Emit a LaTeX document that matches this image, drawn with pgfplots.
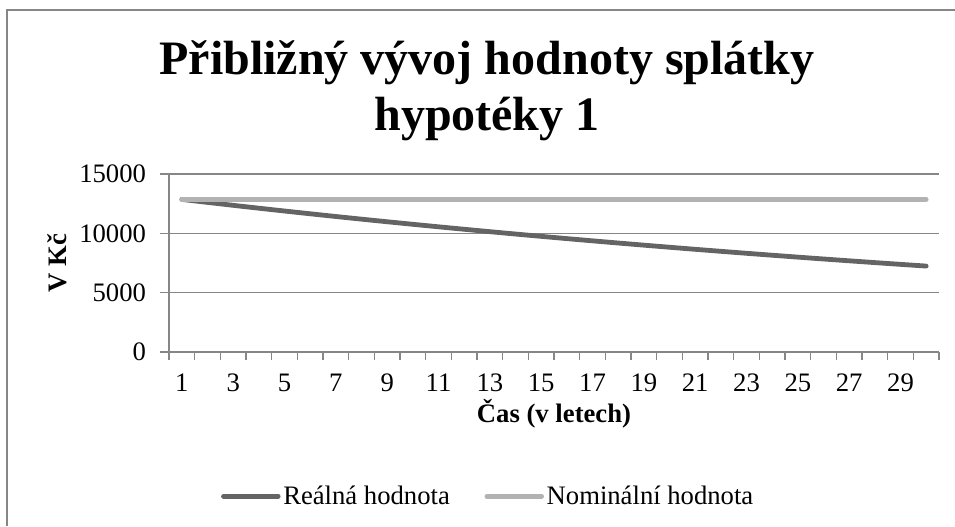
\documentclass[border=0pt]{standalone}
\usepackage{fontspec}
\setmainfont{Liberation Serif}
\usepackage{pgfplots}
\pgfplotsset{compat=1.18}
\definecolor{axgray}{HTML}{868686}
\definecolor{realc}{HTML}{646464}
\definecolor{nomc}{HTML}{B2B2B2}
\pgfplotstableread{
t real nominal
1 12860 12860
2 12608 12860
3 12361 12860
4 12118 12860
5 11881 12860
6 11648 12860
7 11419 12860
8 11195 12860
9 10976 12860
10 10761 12860
11 10550 12860
12 10343 12860
13 10140 12860
14 9941 12860
15 9746 12860
16 9555 12860
17 9368 12860
18 9184 12860
19 9004 12860
20 8828 12860
21 8654 12860
22 8485 12860
23 8318 12860
24 8155 12860
25 7995 12860
26 7838 12860
27 7685 12860
28 7534 12860
29 7386 12860
30 7242 12860
}\datatable
\begin{document}
\begin{tikzpicture}[x=0.75pt,y=0.75pt]
\useasboundingbox (0,0) rectangle (955,526);
\draw[axgray, line width=1pt] (7,0) -- (7,516) -- (955,516);
\node[anchor=base, font=\fontsize{36}{40}\selectfont\bfseries] at (487,451) {Přibližný vývoj hodnoty splátky};
\node[anchor=base, font=\fontsize{36}{40}\selectfont\bfseries] at (487,396) {hypotéky 1};
\begin{axis}[
  at={(126.75pt,130.5pt)}, anchor=south west, scale only axis,
  width=577.5pt, height=133.5pt,
  xmin=0.5, xmax=30.5, ymin=0, ymax=15000,
  axis x line*=bottom, axis y line*=left,
  axis line style={axgray, line width=1pt, -},
  ytick={0,5000,10000,15000}, scaled y ticks=false,
  /pgf/number format/assume math mode=true,
  /pgf/number format/1000 sep={},
  tick label style={font=\fontsize{20}{23}\selectfont},
  yticklabel style={xshift=-7pt},
  xticklabel style={yshift=-6pt},
  xtick={1,3,...,29},
  minor xtick={0.5,1.5,...,30.5},
  major x tick style={draw=none},
  minor x tick style={axgray, line width=1pt},
  ytick style={axgray, line width=1pt},
  tick align=outside,
  major tick length=6.75pt, minor tick length=6pt,
  ymajorgrids, grid style={axgray, line width=1pt},
  xlabel={\textbf{Čas (v letech)}},
  ylabel={\textbf{V Kč}},
  label style={font=\fontsize{20}{23}\selectfont},
  xlabel style={at={(axis description cs:0.5,-0.395)}, anchor=base},
  ylabel style={at={(axis description cs:-0.1325,0.5)}, anchor=base, rotate=0},
  legend columns=2,
  legend style={at={(axis description cs:0.415,-0.81)}, anchor=center, draw=none,
    font=\fontsize{20}{23}\selectfont, inner sep=0pt,
    /tikz/every even column/.append style={column sep=24pt}},
  legend image code/.code={\draw[#1] (0pt,0pt) -- (41pt,0pt);},
]
\addplot[realc, line width=3.6pt, line cap=round] table[x=t, y=real] {\datatable};
\addlegendentry{Reálná hodnota}
\addplot[nomc, line width=3.6pt, line cap=round] table[x=t, y=nominal] {\datatable};
\addlegendentry{Nominální hodnota}
\end{axis}
\end{tikzpicture}
\end{document}
